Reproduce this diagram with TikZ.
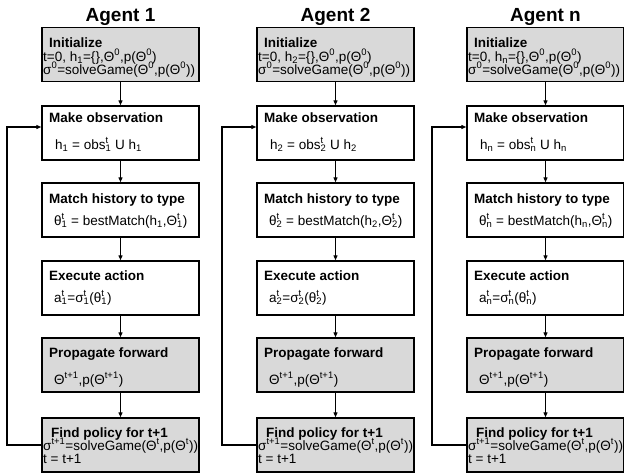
\documentclass[tikz,border=0pt]{standalone}
\usepackage{fontspec}
\setmainfont{Liberation Sans}
\usepackage{tikz}
\usetikzlibrary{arrows.meta}

\newcommand{\tsub}[1]{\textsubscript{#1}}
\newcommand{\tsup}[1]{\textsuperscript{#1}}
\newcommand{\tss}[2]{\rlap{\tsup{#2}}\tsub{#1}}

\begin{document}
\begin{tikzpicture}[
  x=1pt, y=-1pt,
  >={Triangle[length=5pt,width=4pt]},
  box/.style={draw, line width=1.4pt, minimum width=157pt, minimum height=54pt, inner sep=0pt},
  shaded/.style={box, fill=gray!30},
  head/.style={anchor=base west, inner sep=0pt, text height=9pt, text depth=1pt,
    font=\fontsize{13.5}{14}\selectfont\bfseries},
  body/.style={anchor=base west, inner sep=0pt, text height=9pt, text depth=1pt,
    font=\fontsize{13.5}{14}\selectfont},
  agent/.style={anchor=base, inner sep=0pt, font=\fontsize{19}{20}\selectfont\bfseries},
  flow/.style={->, line width=1.1pt}
]
\useasboundingbox (0,0) rectangle (624,474);

%========== one column per agent ==========
\foreach \i/\xx in {1/42, 2/257, n/467}{
\begin{scope}[shift={(\xx,0)}]
  \node[agent] (title\i) at (78.5,21) {Agent \i};
  % boxes
  \node[shaded] (init\i)  at (78.5,54.5) {};
  \node[box]    (obs\i)   at (78.5,133) {};
  \node[box]    (match\i) at (78.5,210) {};
  \node[box]    (act\i)   at (78.5,288) {};
  \node[shaded] (prop\i)  at (78.5,365) {};
  \node[shaded] (find\i)  at (78.5,445) {};
  % texts
  \node[head] (initH\i) at (7,47) {Initialize};
  \node[body] (initA\i) at (1,61) {t=0, h\tsub{\i}=\{\},Θ\tsup{0},p(Θ\tsup{0})};
  \node[body] (initB\i) at (1,74) {σ\tsup{0}=solveGame(Θ\tsup{0},p(Θ\tsup{0}))};
  \node[head] (obsH\i) at (7,122) {Make observation};
  \node[body] (obsA\i) at (13,149) {h\tsub{\i} = obs\tss{\i}{t} U h\tsub{\i}};
  \node[head] (matchH\i) at (7,203) {Match history to type};
  \node[body] (matchA\i) at (12,225) {θ\tss{\i}{t} = bestMatch(h\tsub{\i},Θ\tss{\i}{t})};
  \node[head] (actH\i) at (7,280) {Execute action};
  \node[body] (actA\i) at (12,302) {a\tss{\i}{t}=σ\tss{\i}{t}(θ\tss{\i}{t})};
  \node[head] (propH\i) at (7,357) {Propagate forward};
  \node[body] (propA\i) at (12,384) {Θ\tsup{t+1},p(Θ\tsup{t+1})};
  \node[head] (findH\i) at (9,437) {Find policy for t+1};
  \node[body] (findA\i) at (1,450) {σ\tsup{t+1}=solveGame(Θ\tsup{t},p(Θ\tsup{t}))};
  \node[body] (findB\i) at (1,463) {t = t+1};
  % flow down
  \draw[flow] (init\i) -- (obs\i);
  \draw[flow] (obs\i) -- (match\i);
  \draw[flow] (match\i) -- (act\i);
  \draw[flow] (act\i) -- (prop\i);
  \draw[flow] (prop\i) -- (find\i);
  % loop back to observation
  \coordinate (back\i) at (-35,0);
  \draw[flow] (find\i.west) -- (find\i.west -| back\i) |- ([yshift=6pt]obs\i.west);
\end{scope}
}
\end{tikzpicture}
\end{document}
